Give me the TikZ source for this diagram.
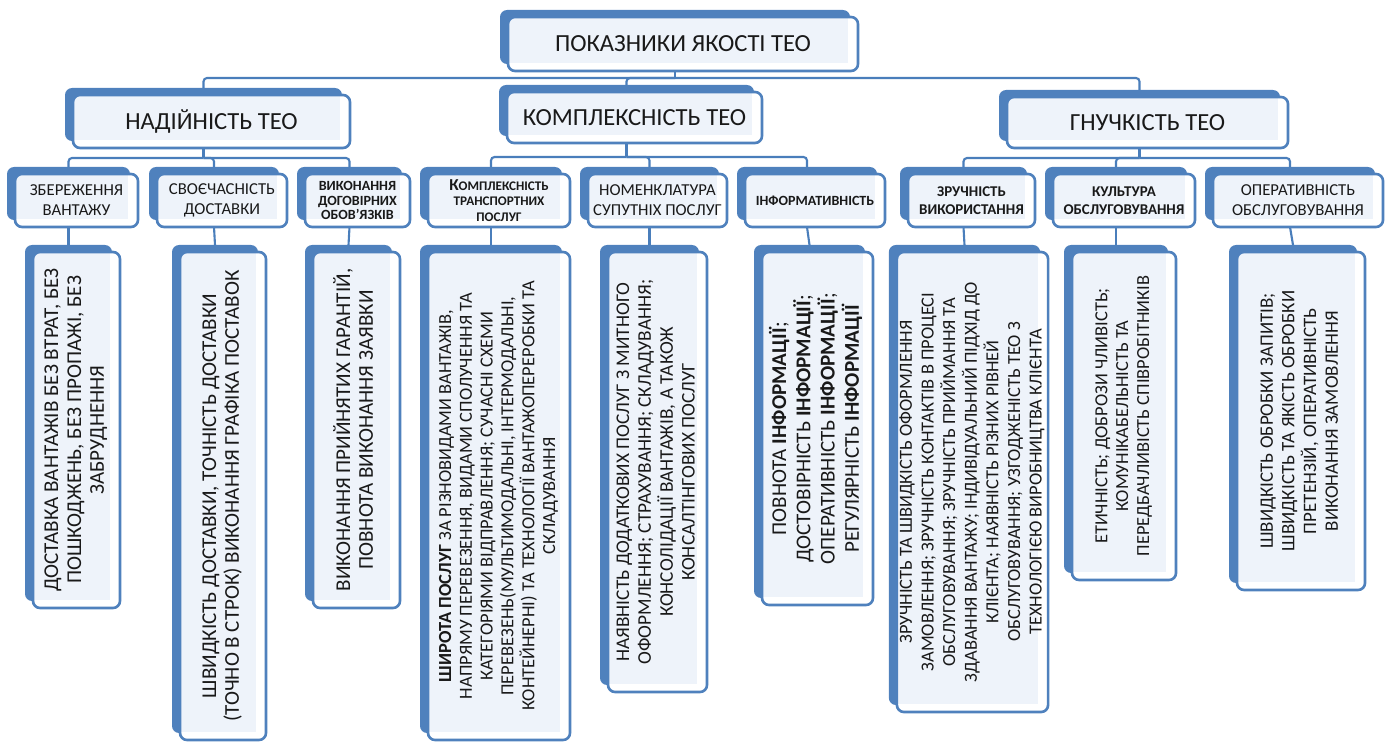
\documentclass[tikz,border=0pt]{standalone}
\usepackage{fontspec}
\setmainfont{Carlito}
\usepackage{graphicx}
\usetikzlibrary{calc,backgrounds}

\definecolor{teoblue}{HTML}{4F81BD}
\definecolor{teoline}{HTML}{4A7EBB}
\definecolor{teofill}{HTML}{EEF3FA}

% vertical multi-line text for the lower boxes
\newcommand{\vlines}[1]{\rotatebox{90}{\begin{tabular}{@{}c@{}}#1\end{tabular}}}

\tikzset{
  card/.style={draw=teoblue, line width=1.5pt, rounded corners=4pt, fill=white,
    inner sep=0pt, outer sep=0pt, align=center, text=black!90,
    path picture={\fill[teofill, sharp corners] (path picture bounding box.north west)
      rectangle ([xshift=-5.5pt,yshift=4.5pt]path picture bounding box.south east);}},
  wh/.style 2 args={minimum width=#1*0.02cm, minimum height=#2*0.02cm},
  head/.style={card, font=\fontsize{14}{16}\selectfont},
  sub/.style={card, font=\fontsize{9.5}{11.5}\selectfont},
  subb/.style={card, font=\bfseries\fontsize{8.5}{10.5}\selectfont},
  leaf/.style={card, font=\fontsize{12}{13}\selectfont},
  backcard/.style={fill=teoblue, rounded corners=4pt},
  link/.style={draw=teoline, line width=1.2pt, rounded corners=2pt}
}

\begin{document}
\begin{tikzpicture}[x=0.02cm, y=-0.02cm]
\useasboundingbox (0,0) rectangle (1393,743);

% Top block
\node[head, wh={350}{54}] (top) at (683,44) {ПОКАЗНИКИ ЯКОСТІ ТЕО};

% Level 1
\node[head, wh={277}{53}] (rel) at (211.5,121.5) {НАДІЙНІСТЬ ТЕО};
\node[head, wh={255}{51}] (cpx) at (634.5,117.5) {КОМПЛЕКСНІСТЬ ТЕО};
\node[head, wh={281}{51}] (flx) at (1147.5,122.5) {ГНУЧКІСТЬ ТЕО};

% Level 2
\node[sub, wh={123}{53}] (rel1) at (76.5,200.5) {ЗБЕРЕЖЕННЯ\\ВАНТАЖУ};
\node[sub, wh={130}{53}] (rel2) at (222,200.5) {СВОЄЧАСНІСТЬ\\ДОСТАВКИ};
\node[subb, wh={105}{53}, font=\bfseries\fontsize{8}{8.5}\selectfont] (rel3) at (357.5,200.5) {ВИКОНАННЯ\\ДОГОВІРНИХ\\ОБОВ’ЯЗКІВ};
\node[subb, wh={142}{53}, font=\bfseries\fontsize{7.5}{9}\selectfont] (cpx1) at (499,200.5) {{\fontsize{9.5}{9}\selectfont К}ОМПЛЕКСНІСТЬ\\ТРАНСПОРТНИХ\\ПОСЛУГ};
\node[sub, wh={139}{53}] (cpx2) at (657.5,200.5) {НОМЕНКЛАТУРА\\СУПУТНІХ ПОСЛУГ};
\node[subb, wh={140}{53}, font=\bfseries\fontsize{8}{10}\selectfont] (cpx3) at (815,200.5) {ІНФОРМАТИВНІСТЬ};
\node[subb, wh={127}{53}] (flx1) at (971.5,200.5) {ЗРУЧНІСТЬ\\ВИКОРИСТАННЯ};
\node[subb, wh={142}{53}] (flx2) at (1124,200.5) {КУЛЬТУРА\\ОБСЛУГОВУВАННЯ};
\node[sub, wh={170}{53}] (flx3) at (1298,200.5) {ОПЕРАТИВНІСТЬ\\ОБСЛУГОВУВАННЯ};

% Level 3
\node[leaf, wh={87}{356}] (rel1d) at (76.5,430) {\vlines{ДОСТАВКА ВАНТАЖІВ БЕЗ ВТРАТ, БЕЗ\\ПОШКОДЖЕНЬ, БЕЗ ПРОПАЖІ, БЕЗ\\ЗАБРУДНЕННЯ}};
\node[leaf, wh={86}{488}] (rel2d) at (223,496) {\vlines{ШВИДКІСТЬ ДОСТАВКИ, ТОЧНІСТЬ ДОСТАВКИ\\(ТОЧНО В СТРОК) ВИКОНАННЯ ГРАФІКА ПОСТАВОК}};
\node[leaf, wh={87}{356}] (rel3d) at (356.5,430) {\vlines{ВИКОНАННЯ ПРИЙНЯТИХ ГАРАНТІЙ,\\ПОВНОТА ВИКОНАННЯ ЗАЯВКИ}};
\node[leaf, wh={142}{488}, font=\fontsize{10.5}{11.8}\selectfont] (cpx1d) at (499,496) {\vlines{\textbf{ШИРОТА ПОСЛУГ} ЗА РІЗНОВИДАМИ ВАНТАЖІВ,\\НАПРЯМУ ПЕРЕВЕЗЕННЯ, ВИДАМИ СПОЛУЧЕННЯ ТА\\КАТЕГОРІЯМИ ВІДПРАВЛЕННЯ; СУЧАСНІ СХЕМИ\\ПЕРЕВЕЗЕНЬ(МУЛЬТИМОДАЛЬНІ, ІНТЕРМОДАЛЬНІ,\\КОНТЕЙНЕРНІ) ТА ТЕХНОЛОГІЇ ВАНТАЖОПЕРЕРОБКИ ТА\\СКЛАДУВАННЯ}};
\node[leaf, wh={99}{440}, font=\fontsize{11}{12.4}\selectfont] (cpx2d) at (657.5,472) {\vlines{НАЯВНІСТЬ ДОДАТКОВИХ ПОСЛУГ З МИТНОГО\\ОФОРМЛЕННЯ; СТРАХУВАННЯ; СКЛАДУВАННЯ;\\КОНСОЛІДАЦІЇ ВАНТАЖІВ, А ТАКОЖ\\КОНСАЛТІНГОВИХ ПОСЛУГ}};
\node[leaf, wh={111}{353}, font=\fontsize{12}{13.6}\selectfont] (cpx3d) at (817.5,428.5) {\vlines{ПОВНОТА \textbf{ІНФОРМАЦІЇ};\\ДОСТОВІРНІСТЬ \textbf{ІНФОРМАЦІЇ};\\ОПЕРАТИВНІСТЬ \textbf{ІНФОРМАЦІЇ};\\РЕГУЛЯРНІСТЬ \textbf{ІНФОРМАЦІЇ}}};
\node[leaf, wh={145}{460}, font=\fontsize{10.5}{12.3}\selectfont] (flx1d) at (972.5,482) {\vlines{ЗРУЧНІСТЬ ТА ШВИДКІСТЬ ОФОРМЛЕННЯ\\ЗАМОВЛЕННЯ; ЗРУЧНІСТЬ КОНТАКТІВ В ПРОЦЕСІ\\ОБСЛУГОВУВАННЯ; ЗРУЧНІСТЬ ПРИЙМАННЯ ТА\\ЗДАВАННЯ ВАНТАЖУ; ІНДИВІДУАЛЬНИЙ ПІДХІД ДО\\КЛІЄНТА; НАЯВНІСТЬ РІЗНИХ РІВНЕЙ\\ОБСЛУГОВУВАННЯ; УЗГОДЖЕНІСТЬ ТЕО З\\ТЕХНОЛОГІЄЮ ВИРОБНИЦТВА КЛІЄНТА}};
\node[leaf, wh={104}{328}, font=\fontsize{10.5}{11.9}\selectfont] (flx2d) at (1124,416) {\vlines{ЕТИЧНІСТЬ; ДОБРОЗИ ЧЛИВІСТЬ;\\КОМУНІКАБЕЛЬНІСТЬ ТА\\ПЕРЕДБАЧЛИВІСТЬ СПІВРОБІТНИКІВ}};
\node[leaf, wh={128}{338}, font=\fontsize{10.8}{12.3}\selectfont] (flx3d) at (1301,421) {\vlines{ШВИДКІСТЬ ОБРОБКИ ЗАПИТІВ;\\ШВИДКІСТЬ ТА ЯКІСТЬ ОБРОБКИ\\ПРЕТЕНЗІЙ, ОПЕРАТИВНІСТЬ\\ВИКОНАННЯ ЗАМОВЛЕННЯ}};

\begin{scope}[on background layer]
% Connectors
\draw[link] ($(top.south)+(-8,0)$) -- ++(0,7) coordinate (bus0);
\foreach \c in {rel,cpx,flx}
  \draw[link] (bus0) -| ($(\c.north)+(-8,-7)$);
\draw[link] ($(rel.south)+(-8,0)$) -- ++(0,10) coordinate (busA);
\draw[link] ($(cpx.south)+(-8,0)$) -- ++(0,14) coordinate (busB);
\draw[link] ($(flx.south)+(-8,0)$) -- ++(0,10) coordinate (busC);
\foreach \c in {rel1,rel2,rel3}
  \draw[link] (busA) -| ($(\c.north)+(-8,-7)$);
\foreach \c in {cpx1,cpx2,cpx3}
  \draw[link] (busB) -| ($(\c.north)+(-8,-7)$);
\foreach \c in {flx1,flx2,flx3}
  \draw[link] (busC) -| ($(\c.north)+(-8,-7)$);
\foreach \c in {rel1,rel2,rel3,cpx1,cpx2,cpx3,flx1,flx2,flx3}
  \draw[link] ($(\c.south)+(-8,0)$) -- ($(\c d.north)+(-8,-7)$);

% Back plates
\foreach \n in {top,rel,cpx,flx,rel1,rel2,rel3,cpx1,cpx2,cpx3,flx1,flx2,flx3,
    rel1d,rel2d,rel3d,cpx1d,cpx2d,cpx3d,flx1d,flx2d,flx3d}
  \fill[backcard] ($(\n.north west)+(-8,-7)$) rectangle ($(\n.south east)+(-8,-7)$);
\end{scope}

\end{tikzpicture}
\end{document}
